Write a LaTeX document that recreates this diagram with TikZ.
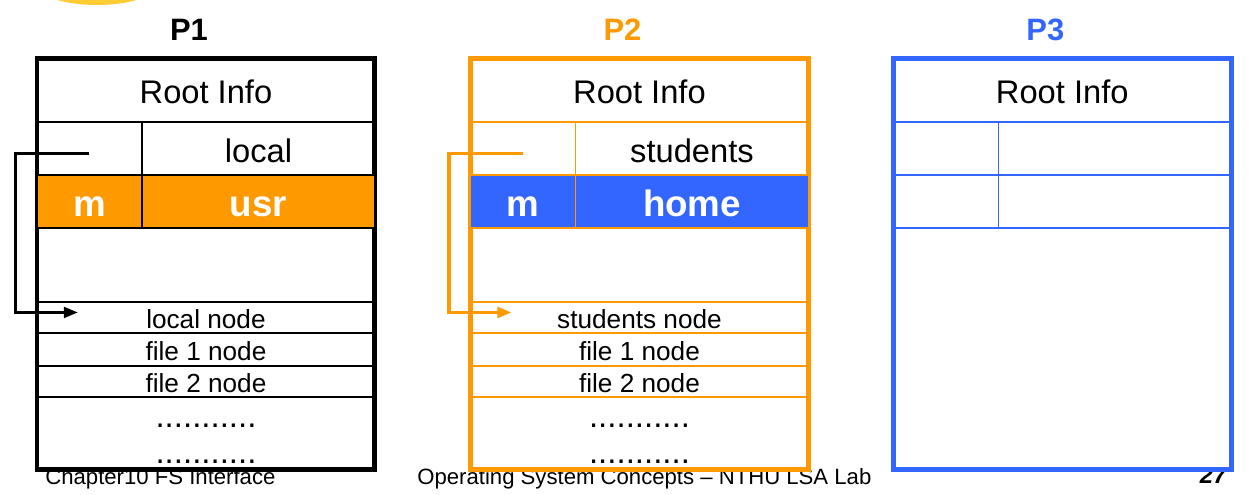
\documentclass[tikz,border=0pt]{standalone}
\usepackage{fontspec}
\setmainfont{Liberation Sans}
\usetikzlibrary{positioning,arrows.meta}
\definecolor{orng}{HTML}{FF9900}
\definecolor{blu}{HTML}{3366FF}
\definecolor{sun}{HTML}{FFCC33}
\tikzset{
  pane/.style={draw,fill=white,line width=2.8pt,minimum width=6.76cm,minimum height=8.23cm,
    anchor=north west,inner sep=0pt,outer sep=0pt},
  cell/.style={draw,line width=0.7pt,anchor=north west,inner sep=0pt,outer sep=0pt,
    text height=17.5pt,text depth=2pt,font=\fontsize{18.6}{20}\selectfont},
  namecell/.style={cell,minimum width=2.1cm,minimum height=1.06cm},
  dircell/.style={cell,minimum width=4.66cm,minimum height=1.06cm},
  inode/.style={cell,minimum width=6.76cm,text height=13.5pt,text depth=1.2pt,
    font=\fontsize{14.9}{16}\selectfont},
  mount/.style={text=white,text height=20pt,text depth=2.8pt,
    font=\bfseries\fontsize{20.9}{22}\selectfont},
  ptitle/.style={font=\bfseries\fontsize{17.6}{19}\selectfont},
  dots/.style={anchor=base,inner sep=0pt,font=\fontsize{18.8}{20}\selectfont},
  footer/.style={anchor=base west,inner sep=0pt,font=\fontsize{12.6}{14}\selectfont},
  ptr/.style={line width=1.8pt,-{Triangle[length=8pt,width=6pt]}},
}
\begin{document}
\begin{tikzpicture}[x=0.02cm,y=-0.02cm]
  \useasboundingbox (0,0) rectangle (1250,494);
  \clip (0,0) rectangle (1250,494);
  \fill[sun] (97,-20) ellipse [x radius=66,y radius=25];
  % footer, partly hidden by the panes
  \node[footer] (chap) at (45,484.5) {Chapter10 FS Interface};
  \node[footer] (book) at (417,484.5) {Operating System Concepts -- NTHU LSA Lab};
  \node[footer,anchor=base east,font=\bfseries\itshape\fontsize{13.7}{15}\selectfont] (pg) at (1227,483.3) {27};
  % the three process tables
  \foreach \p/\x/\c/\dir/\mt/\mc/\mdir in {1/37/black/local/m/orng/usr,2/470.5/orng/students/m/blu/home,3/893.3/blu///none/}{
    \node[ptitle,text=\c] (t\p) at (\x+152,30) {P\p};
    \node[pane,draw=\c] (p\p) at (\x,58.5) {};
    \node[cell,draw=\c,minimum width=6.76cm,minimum height=1.27cm] (r\p) at (\x,58.5) {Root Info};
    \node[namecell,draw=\c] (a\p) at (r\p.south west) {};
    \node[dircell,draw=\c] (d\p) at (a\p.north east) {\dir};
    \node[namecell,draw=\c,fill=\mc,mount] (m\p) at (a\p.south west) {\mt};
    \node[dircell,draw=\c,fill=\mc,mount] (n\p) at (m\p.north east) {\mdir};
  }
  \foreach \p/\x/\c/\dir in {1/37/black/local,2/470.5/orng/students}{
    \node[inode,draw=\c,minimum height=1.48cm] (g\p) at (m\p.south west) {};
    \node[inode,draw=\c,minimum height=0.62cm] (l\p) at (g\p.south west) {\dir\ node};
    \node[inode,draw=\c,minimum height=0.66cm] (f\p) at (l\p.south west) {file 1 node};
    \node[inode,draw=\c,minimum height=0.62cm] (s\p) at (f\p.south west) {file 2 node};
    \node[dots] (o\p) at (\x+169,427) {...........};
    \node[dots] (q\p) at (\x+169,463) {...........};
    \draw[ptr,\c] ([yshift=-0.1cm]a\p.center) -- ++(-74,0) |- ([xshift=0.82cm,yshift=0.1cm]l\p.west);
  }
\end{tikzpicture}
\end{document}
